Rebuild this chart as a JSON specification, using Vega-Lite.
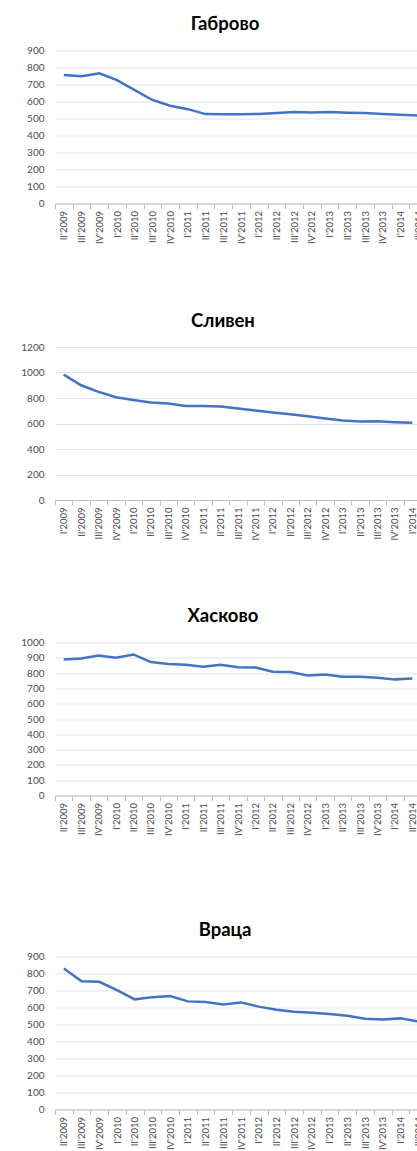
{
  "$schema": "https://vega.github.io/schema/vega-lite/v6.json",
  "padding": {"left": 20, "top": 14.5, "right": 0, "bottom": 0},
  "background": "white",
  "config": {
    "font": "Lato",
    "view": {"stroke": null},
    "title": {"font": "Lato", "fontSize": 18.5, "fontWeight": "bold", "color": "#000000", "anchor": "middle", "offset": 12, "frame": "group"},
    "axis": {"labelFont": "Lato", "labelColor": "#4d4d4d", "title": null},
    "axisX": {"labelAngle": -90, "labelFontSize": 9.5, "tickBand": "extent", "tickSize": 5, "tickColor": "#bfbfbf", "domainColor": "#bfbfbf", "labelPadding": 2, "grid": false, "labelOverlap": false},
    "axisY": {"labelFontSize": 10, "domain": false, "ticks": false, "labelPadding": 11, "gridColor": "#dde4f0", "gridWidth": 1, "format": "d"}
  },
  "datasets": {
    "gabrovo": [
      {"q": "II'2009", "v": 756}, {"q": "III'2009", "v": 748}, {"q": "IV'2009", "v": 766},
      {"q": "I'2010", "v": 726}, {"q": "II'2010", "v": 667}, {"q": "III'2010", "v": 609}, {"q": "IV'2010", "v": 575},
      {"q": "I'2011", "v": 555}, {"q": "II'2011", "v": 526}, {"q": "III'2011", "v": 525}, {"q": "IV'2011", "v": 525},
      {"q": "I'2012", "v": 527}, {"q": "II'2012", "v": 532}, {"q": "III'2012", "v": 538}, {"q": "IV'2012", "v": 536},
      {"q": "I'2013", "v": 538}, {"q": "II'2013", "v": 534}, {"q": "III'2013", "v": 532}, {"q": "IV'2013", "v": 526},
      {"q": "I'2014", "v": 522}, {"q": "II'2014", "v": 518}
    ],
    "sliven": [
      {"q": "I'2009", "v": 983}, {"q": "II'2009", "v": 900}, {"q": "III'2009", "v": 848}, {"q": "IV'2009", "v": 806},
      {"q": "I'2010", "v": 785}, {"q": "II'2010", "v": 764}, {"q": "III'2010", "v": 757}, {"q": "IV'2010", "v": 738},
      {"q": "I'2011", "v": 738}, {"q": "II'2011", "v": 733}, {"q": "III'2011", "v": 717}, {"q": "IV'2011", "v": 702},
      {"q": "I'2012", "v": 686}, {"q": "II'2012", "v": 673}, {"q": "III'2012", "v": 657}, {"q": "IV'2012", "v": 639},
      {"q": "I'2013", "v": 623}, {"q": "II'2013", "v": 616}, {"q": "III'2013", "v": 618}, {"q": "IV'2013", "v": 610},
      {"q": "I'2014", "v": 605}
    ],
    "haskovo": [
      {"q": "II'2009", "v": 889}, {"q": "III'2009", "v": 896}, {"q": "IV'2009", "v": 915},
      {"q": "I'2010", "v": 900}, {"q": "II'2010", "v": 922}, {"q": "III'2010", "v": 872}, {"q": "IV'2010", "v": 859},
      {"q": "I'2011", "v": 854}, {"q": "II'2011", "v": 841}, {"q": "III'2011", "v": 854}, {"q": "IV'2011", "v": 839},
      {"q": "I'2012", "v": 837}, {"q": "II'2012", "v": 809}, {"q": "III'2012", "v": 807}, {"q": "IV'2012", "v": 785},
      {"q": "I'2013", "v": 791}, {"q": "II'2013", "v": 776}, {"q": "III'2013", "v": 776}, {"q": "IV'2013", "v": 770},
      {"q": "I'2014", "v": 759}, {"q": "II'2014", "v": 765}
    ],
    "vratsa": [
      {"q": "II'2009", "v": 830}, {"q": "III'2009", "v": 755}, {"q": "IV'2009", "v": 751},
      {"q": "I'2010", "v": 702}, {"q": "II'2010", "v": 648}, {"q": "III'2010", "v": 661}, {"q": "IV'2010", "v": 667},
      {"q": "I'2011", "v": 636}, {"q": "II'2011", "v": 632}, {"q": "III'2011", "v": 618}, {"q": "IV'2011", "v": 630},
      {"q": "I'2012", "v": 605}, {"q": "II'2012", "v": 587}, {"q": "III'2012", "v": 575}, {"q": "IV'2012", "v": 569},
      {"q": "I'2013", "v": 562}, {"q": "II'2013", "v": 552}, {"q": "III'2013", "v": 534}, {"q": "IV'2013", "v": 530},
      {"q": "I'2014", "v": 536}, {"q": "II'2014", "v": 518}
    ]
  },
  "vconcat": [
    {
      "vconcat": [
        {
          "vconcat": [
            {
              "title": {"text": "Габрово", "dx": -16},
              "width": 372, "height": 153,
              "data": {"name": "gabrovo"},
              "mark": {"type": "line", "color": "#4472C4", "strokeWidth": 2.5},
              "encoding": {
                "x": {"field": "q", "type": "ordinal", "sort": null, "bandPosition": 0.5, "scale": {"type": "band", "paddingInner": 0, "paddingOuter": 0}},
                "y": {"field": "v", "type": "quantitative", "scale": {"domain": [0, 900]}, "axis": {"values": [0, 100, 200, 300, 400, 500, 600, 700, 800, 900]}}
              }
            }
          ]
        },
        {
          "vconcat": [
            {
              "title": {"text": "Сливен", "dx": -15},
              "width": 366, "height": 153,
              "data": {"name": "sliven"},
              "mark": {"type": "line", "color": "#4472C4", "strokeWidth": 2.5},
              "encoding": {
                "x": {"field": "q", "type": "ordinal", "sort": null, "bandPosition": 0.5, "scale": {"type": "band", "paddingInner": 0, "paddingOuter": 0}},
                "y": {"field": "v", "type": "quantitative", "scale": {"domain": [0, 1200]}, "axis": {"values": [0, 200, 400, 600, 800, 1000, 1200]}}
              }
            },
            {
              "title": {"text": "Хасково", "dx": -15},
              "width": 366, "height": 153,
              "data": {"name": "haskovo"},
              "mark": {"type": "line", "color": "#4472C4", "strokeWidth": 2.5},
              "encoding": {
                "x": {"field": "q", "type": "ordinal", "sort": null, "bandPosition": 0.5, "scale": {"type": "band", "paddingInner": 0, "paddingOuter": 0}},
                "y": {"field": "v", "type": "quantitative", "scale": {"domain": [0, 1000]}, "axis": {"values": [0, 100, 200, 300, 400, 500, 600, 700, 800, 900, 1000]}}
              }
            }
          ],
          "spacing": 65.5
        }
      ],
      "spacing": 66.5
    },
    {
      "vconcat": [
        {
          "title": {"text": "Враца", "dx": -16},
          "width": 372, "height": 153,
          "data": {"name": "vratsa"},
          "mark": {"type": "line", "color": "#4472C4", "strokeWidth": 2.5},
          "encoding": {
            "x": {"field": "q", "type": "ordinal", "sort": null, "bandPosition": 0.5, "scale": {"type": "band", "paddingInner": 0, "paddingOuter": 0}},
            "y": {"field": "v", "type": "quantitative", "scale": {"domain": [0, 900]}, "axis": {"values": [0, 100, 200, 300, 400, 500, 600, 700, 800, 900]}}
          }
        }
      ]
    }
  ],
  "spacing": 84
}
